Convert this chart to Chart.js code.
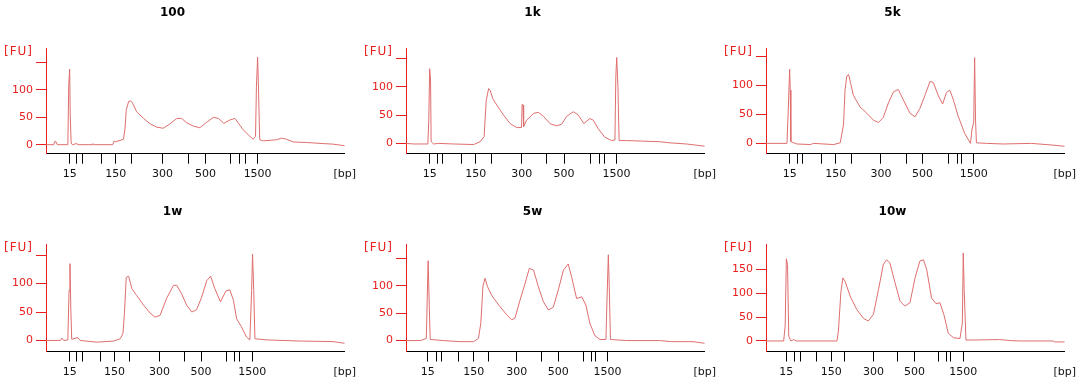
<!DOCTYPE html>
<html>
<head>
<meta charset="UTF-8">
<title>Electropherograms</title>
<script src="https://cdn.jsdelivr.net/npm/chart.js"></script>
<style>
    body { margin: 0; background: #fff; }
    .panel { position: absolute; width: 360px; }
</style>
</head>
<body>
<div class="panel" style="left:0;top:0;height:190px"><canvas id="c1"></canvas></div>
<div class="panel" style="left:360px;top:0;height:190px"><canvas id="c2"></canvas></div>
<div class="panel" style="left:720px;top:0;height:190px"><canvas id="c3"></canvas></div>
<div class="panel" style="left:0;top:190px;height:194px"><canvas id="c4"></canvas></div>
<div class="panel" style="left:360px;top:190px;height:194px"><canvas id="c5"></canvas></div>
<div class="panel" style="left:720px;top:190px;height:194px"><canvas id="c6"></canvas></div>

<script>
    // migration time (0-100) of each trace point and its fluorescence [FU]
    const titles = ['100', '1k', '5k', '1w', '5w', '10w'];
    const ladderLabels = ['15', '', '', '', '150', '', '300', '', '500', '', '', '', '1500'];
    const yTicks = [0, 50, 100, 150];

    // ladder band positions (15,25,50,100,150,200,300,400,500,700,850,1000,1500 bp)
    const ladder100 = [7.9, 10.1, 12.3, 18.4, 23.3, 28.7, 38.9, 47.6, 53.3, 61.8, 64.8, 66.7, 70.7];
    const ladder1k  = [7.9, 10.6, 12.3, 18.4, 23.3, 28.7, 38.7, 46.8, 52.8, 61.8, 64.6, 66.2, 70.3];
    const ladder5k  = [7.9, 10.6, 12.3, 18.4, 23.3, 28.7, 38.4, 46.8, 52.3, 60.9, 63.9, 65.3, 69.4];
    const ladder1w  = [7.9, 10.1, 12.3, 18.1, 22.9, 27.9, 37.9, 46.4, 51.8, 60.3, 63.1, 64.8, 68.9];
    const ladder5w  = [7.3, 10.1, 12.0, 17.6, 22.6, 27.6, 37.0, 45.3, 50.9, 59.2, 62.0, 63.3, 67.3];
    const ladder10w = [6.8, 9.4, 11.4, 17.0, 21.8, 26.2, 35.9, 44.0, 49.6, 57.6, 60.3, 61.8, 65.9];

    const time100 = [0, 2.6, 2.9, 3.4, 3.8, 7.0, 7.3, 7.6, 7.9, 8.1, 8.4, 8.8, 10.3, 10.7, 15.4, 15.7, 16.0, 22.3, 22.8, 23.1, 23.7,
        25.9, 26.4, 26.8, 27.6, 28.3, 28.9, 30.3, 32.6, 34.8, 37.0, 39.2, 41.4, 43.7, 45.3, 47.0, 49.2, 51.4, 53.7, 55.9, 57.6,
        59.4, 61.4, 63.1, 64.2, 65.9, 67.6, 69.2, 70.0, 70.3, 70.7, 71.0, 71.4, 72.6, 77.0, 78.7, 80.3, 82.6, 87.0, 92.6, 95.9, 99.8];
    const fu100 = [0, 0, 6, 5, 0, 0, 0, 109, 138, 54, 3, 0, 2, 0, 0, 2, 0, 0, 7, 5, 6,
        10, 30, 63, 79, 80, 76, 60, 48, 38, 32, 30, 38, 48, 48, 40, 34, 31, 41, 50, 48,
        39, 45, 48, 40, 27, 18, 10, 15, 106, 160, 100, 9, 7, 9, 12, 10, 5, 4, 2, 1, -2];

    const time1k = [0, 2.6, 7.3, 7.6, 7.9, 8.2, 8.4, 9.2, 10.9, 15.9, 22.6, 24.8, 26.1, 26.8, 27.6, 28.1, 29.0, 30.3, 32.6, 34.8,
        37.0, 38.6, 38.8, 39.1, 39.3, 40.3, 42.6, 44.2, 45.9, 48.1, 50.3, 52.0, 53.7, 55.9, 57.6, 59.4, 61.4, 62.6, 64.2, 66.4,
        68.7, 69.8, 70.1, 70.4, 70.8, 71.2, 73.7, 84.8, 88.1, 93.7, 99.8];
    const fu1k = [0, -1, -1, 38, 132, 112, 3, -1, 0, -1, -2, 3, 12, 76, 97, 94, 79, 68, 50, 35,
        28, 28, 69, 68, 30, 41, 53, 55, 48, 35, 31, 34, 48, 56, 50, 35, 44, 41, 26, 11,
        5, 6, 118, 152, 100, 5, 5, 3, 1, -1, -5];

    const time5k = [0, 7.0, 7.4, 7.9, 8.1, 8.3, 10.3, 14.8, 15.9, 22.6, 24.8, 25.9, 26.4, 27.0, 27.6, 28.3, 29.2, 31.4, 33.7, 35.9,
        37.6, 39.2, 40.9, 42.6, 44.2, 45.9, 48.1, 49.8, 51.4, 53.1, 54.8, 55.9, 57.6, 59.0, 60.3, 61.4, 62.6, 64.2, 66.4, 68.3,
        68.8, 69.4, 69.7, 70.0, 70.3, 73.7, 79.2, 88.7, 95.9, 99.8];
    const fu5k = [0, 0, 52, 128, 92, 3, -1, -2, 0, -2, 1, 32, 92, 116, 119, 103, 83, 63, 52, 40,
        36, 45, 70, 89, 93, 75, 52, 46, 60, 83, 107, 105, 82, 68, 88, 92, 75, 47, 17, 0,
        23, 37, 148, 40, 1, 0, -1, 0, -3, -5];

    const time1w = [0, 4.8, 5.3, 5.9, 7.3, 7.7, 8.0, 8.3, 8.6, 10.6, 11.4, 17.0, 22.6, 24.8, 25.7, 26.2, 26.8, 27.6, 28.7, 30.3,
        32.6, 34.8, 36.4, 38.1, 40.3, 42.6, 43.7, 45.3, 47.0, 48.7, 50.3, 52.0, 53.7, 55.0, 56.4, 58.3, 60.1, 61.4, 62.6, 63.7,
        65.3, 67.0, 68.1, 68.7, 69.0, 69.4, 69.8, 73.7, 79.2, 84.8, 95.9, 99.8];
    const fu1w = [0, 0, 4, 0, 1, 88, 135, 53, 2, 5, 0, -3, -1, 3, 12, 47, 111, 113, 91, 79,
        62, 48, 41, 44, 74, 97, 97, 82, 62, 50, 54, 76, 105, 113, 91, 68, 87, 89, 71, 38,
        24, 6, 1, 88, 152, 88, 3, 1, 0, -1, -2, -5];

    const time5w = [0, 4.8, 6.8, 7.1, 7.4, 7.8, 8.1, 12.6, 18.1, 22.6, 24.2, 25.0, 25.7, 26.4, 27.2, 28.7, 31.4, 33.7, 35.3, 36.4,
        38.1, 39.8, 41.2, 42.6, 44.2, 45.9, 47.6, 49.2, 50.9, 52.6, 54.2, 55.3, 57.0, 58.7, 60.1, 61.4, 63.1, 64.8, 66.8, 67.1,
        67.6, 67.9, 68.3, 73.7, 84.8, 88.7, 95.9, 99.8];
    const fu5w = [0, 0, 4, 80, 146, 56, 2, 0, -2, -2, 4, 32, 99, 114, 99, 82, 62, 47, 38, 41,
        74, 105, 132, 129, 99, 71, 56, 61, 93, 129, 140, 117, 77, 80, 65, 32, 9, 2, 2, 65,
        157, 99, 2, 0, 0, -2, -2, -5];

    const time10w = [0, 5.9, 6.4, 6.8, 7.2, 7.6, 8.3, 9.2, 10.1, 23.7, 24.2, 25.0, 25.7, 26.4, 28.1, 30.3, 32.6, 34.2, 35.9, 37.6,
        39.2, 40.3, 41.4, 43.1, 44.8, 46.4, 48.1, 49.8, 51.4, 52.6, 53.7, 55.3, 56.8, 58.1, 59.4, 60.9, 62.6, 64.8, 65.6, 65.9,
        66.2, 66.8, 69.2, 78.1, 81.4, 84.8, 95.9, 96.4, 99.8];
    const fu10w = [0, 0, 31, 172, 160, 10, 0, 3, 0, 0, 21, 101, 132, 125, 94, 66, 47, 42, 56, 108,
        160, 170, 163, 122, 83, 73, 80, 132, 167, 170, 149, 90, 78, 80, 56, 16, 7, 5, 38, 184,
        108, 2, 2, 3, 1, 0, 0, -2, -2];

    const yMins = [-16.5, -18.2, -17.8, -19.4, -20, -22];
    const yMaxs = [176, 168, 164, 168, 175, 201];

    const axisRed = '#e8211f';
    const traceColor = '#df6e6e';
    const timeMax = 99.8;
    Chart.defaults.font.family = '"DejaVu Sans", Verdana, sans-serif';

    const fuLabel = {
        id: 'fuLabel',
        afterDraw(chart) {
            const ctx = chart.ctx;
            ctx.save();
            ctx.font = '12px "DejaVu Sans"';
            ctx.letterSpacing = '1px';
            ctx.fillStyle = axisRed;
            ctx.textBaseline = 'middle';
            ctx.fillText('[FU]', 4, chart.chartArea.top + 3);
            ctx.restore();
        }
    };

    function drawPanel(id, title, times, fu, ladder, yMin, yMax, topRow) {
        const xTicks = ladder.concat([timeMax]);
        const xLabels = ladderLabels.concat(['[bp]']);
        const labelTop = yMax > 190 ? 150 : 100;
        return new Chart(document.getElementById(id), {
            type: 'line',
            data: {
                datasets: [{
                    data: times.map((t, i) => ({x: t, y: fu[i]})),
                    borderColor: traceColor,
                    borderWidth: 1,
                    pointRadius: 0,
                    tension: 0,
                    fill: false
                }]
            },
            options: {
                responsive: true,
                maintainAspectRatio: false,
                animation: false,
                layout: {padding: {right: 15}},
                plugins: {
                    legend: {display: false},
                    tooltip: {enabled: false},
                    title: {
                        display: true,
                        text: title,
                        color: '#000',
                        font: {size: 12, weight: 'bold'},
                        padding: topRow ? {top: 6, bottom: 28} : {top: 14.5, bottom: 26}
                    }
                },
                scales: {
                    x: {
                        type: 'linear',
                        min: 0,
                        max: timeMax,
                        afterBuildTicks: s => { s.ticks = xTicks.map(v => ({value: v})); },
                        afterFit: s => { s.height = topRow ? 36.3 : 32.5; },
                        border: {color: '#000', width: 1},
                        grid: {
                            drawOnChartArea: false,
                            tickLength: 10,
                            color: c => c.index === ladder.length ? 'rgba(0,0,0,0)' : '#000'
                        },
                        ticks: {
                            autoSkip: false,
                            maxRotation: 0,
                            padding: 4,
                            color: '#111',
                            font: {size: 11},
                            callback: (v, i) => xLabels[i]
                        }
                    },
                    y: {
                        min: yMin,
                        max: yMax,
                        afterBuildTicks: s => { s.ticks = yTicks.map(v => ({value: v})); },
                        afterFit: s => { s.width = 46; },
                        border: {color: axisRed, width: 1},
                        grid: {drawOnChartArea: false, tickLength: 10, color: axisRed},
                        ticks: {
                            color: axisRed,
                            padding: 3,
                            font: {size: 11},
                            callback: v => v > labelTop ? '' : String(v)
                        }
                    }
                }
            },
            plugins: [fuLabel]
        });
    }

    drawPanel('c1', titles[0], time100, fu100, ladder100, yMins[0], yMaxs[0], true);
    drawPanel('c2', titles[1], time1k, fu1k, ladder1k, yMins[1], yMaxs[1], true);
    drawPanel('c3', titles[2], time5k, fu5k, ladder5k, yMins[2], yMaxs[2], true);
    drawPanel('c4', titles[3], time1w, fu1w, ladder1w, yMins[3], yMaxs[3], false);
    drawPanel('c5', titles[4], time5w, fu5w, ladder5w, yMins[4], yMaxs[4], false);
    drawPanel('c6', titles[5], time10w, fu10w, ladder10w, yMins[5], yMaxs[5], false);
</script>
</body>
</html>
